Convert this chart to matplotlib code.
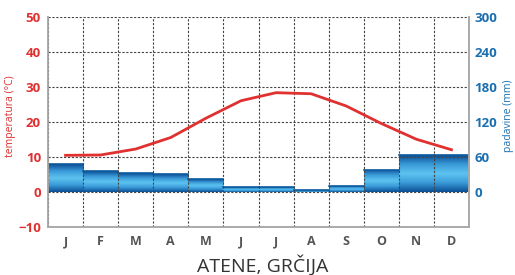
import numpy as np
import matplotlib
matplotlib.use('Agg')
from matplotlib import pyplot as plt

months = ['J', 'F', 'M', 'A', 'M', 'J', 'J', 'A', 'S', 'O', 'N', 'D']
temperature = [10.4, 10.5, 12.2, 15.5, 21.0, 26.0, 28.3, 28.0, 24.5, 19.5, 15.0, 12.0]
precipitation = [48, 35, 32, 30, 21, 8, 8, 3, 10, 38, 63, 63]

plt.rcParams['font.family'] = ['Open Sans', 'DejaVu Sans']

red = '#e03030'
blue = '#1a6fb0'
gray = '#555555'

fig = plt.figure(figsize=(5.15, 2.75), dpi=100)
ax = fig.add_axes([0.0932, 0.1756, 0.8175, 0.7634])
ax2 = ax.twinx()

x = np.arange(len(months))

# padavine - stolpci z gradientom
ax2.set_ylim(-60, 300)
bars = ax2.bar(x, precipitation, width=1.0, color='none', edgecolor='none', zorder=1)
grad = np.concatenate([np.linspace(0, 1, 50), np.linspace(1, 0, 50)]).reshape(-1, 1)
cmap = matplotlib.colors.LinearSegmentedColormap.from_list('pad', ['#0b4f96', '#3a9ad8', '#5cc3f0'])
for b in bars:
    x0, y0 = b.get_x(), b.get_y()
    w, h = b.get_width(), b.get_height()
    im = ax2.imshow(grad, cmap=cmap, aspect='auto', extent=(x0, x0 + w, y0, y0 + h),
                    zorder=1, interpolation='bicubic')
    im.set_clip_path(b)
    ax2.plot([x0, x0 + w], [y0 + h, y0 + h], color='#0d5a9e', lw=1.2, zorder=2)

ax2.set_yticks([0, 60, 120, 180, 240, 300])
ax2.tick_params(axis='y', colors=blue, length=0, labelsize=9.5, pad=4)
for lab in ax2.get_yticklabels():
    lab.set_fontweight('bold')
ax2.set_ylabel('padavine (mm)', color=blue, fontsize=7.5, rotation=90)
ax2.yaxis.set_label_coords(1.08, 0.527)

# temperatura
ax.set_zorder(ax2.get_zorder() + 1)
ax.patch.set_visible(False)
ax.plot(x, temperature, color=red, lw=2, zorder=3)
ax.set_ylim(-10, 50)
ax.set_xlim(-0.5, 11.5)
ax.set_yticks(range(-10, 51, 10))
ax.set_xticks(x)
ax.set_xticklabels(months)
ax.set_xticks(np.arange(-0.5, 12, 1), minor=True)
ax.tick_params(axis='y', colors=red, length=0, labelsize=9.5, pad=5)
ax.tick_params(axis='x', which='major', colors=gray, length=0, labelsize=9, pad=6)
ax.tick_params(axis='x', which='minor', length=0)
for lab in ax.get_yticklabels() + ax.get_xticklabels():
    lab.set_fontweight('bold')
ax.set_ylabel('temperatura (°C)', color=red, fontsize=7.5)
ax.yaxis.set_label_coords(-0.076, 0.527)

ax.grid(True, which='minor', axis='x', color='#444444', ls=(0, (2, 1.5)), lw=0.8)
ax.grid(True, which='major', axis='y', color='#444444', ls=(0, (2, 1.5)), lw=0.8)
ax.grid(False, which='major', axis='x')

for a in (ax, ax2):
    a.spines['top'].set_visible(False)
    for s in ('left', 'right', 'bottom'):
        a.spines[s].set_color('#aaaaaa')
        a.spines[s].set_linewidth(1.2)

fig.text(0.51, 0.012, 'ATENE, GRČIJA', ha='center', va='baseline', fontsize=14, color='#333333')

fig.savefig('out.png', dpi=100)
